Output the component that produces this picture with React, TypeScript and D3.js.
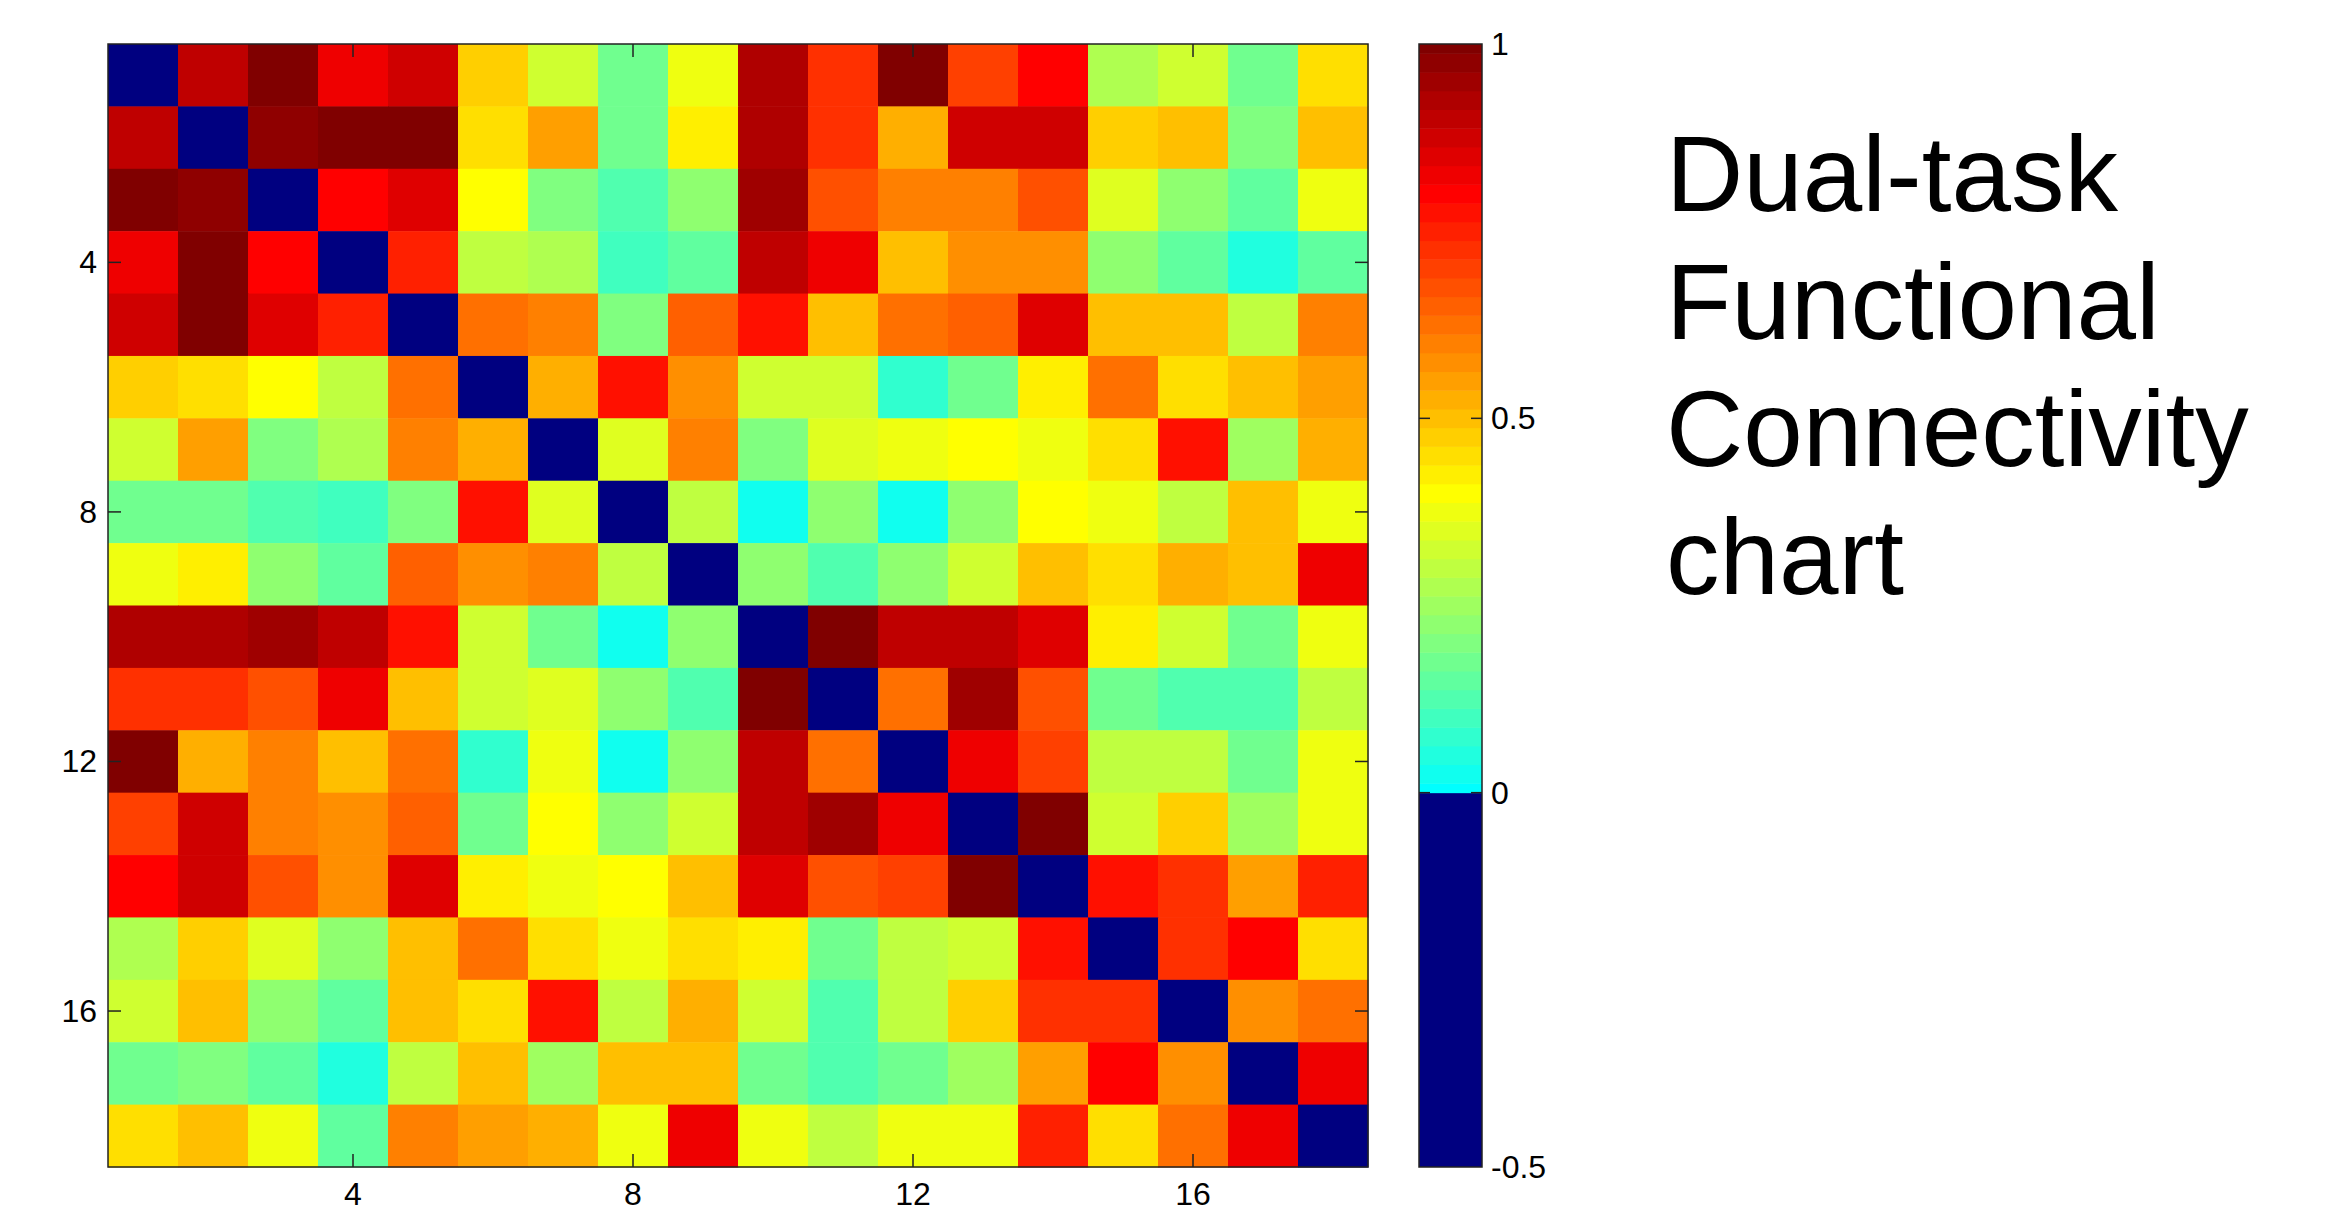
import React, { useEffect, useRef } from "react";
import * as d3 from "d3";

// node labels (rows / columns of the matrix)
const nodes = [1, 2, 3, 4, 5, 6, 7, 8, 9, 10, 11, 12, 13, 14, 15, 16, 17, 18];
const axisTicks = [4, 8, 12, 16];
const colorbarTicks = [1, 0.5, 0, -0.5];
const titleLines = ["Dual-task", "Functional", "Connectivity", "chart"];

const D = -0.5; // diagonal (shown navy)
const connectivity = [
  [D, 0.9, 1.0, 0.825, 0.875, 0.475, 0.325, 0.175, 0.375, 0.925, 0.725, 1.0, 0.7, 0.8, 0.275, 0.325, 0.175, 0.45],
  [0.9, D, 0.975, 1.0, 1.0, 0.45, 0.55, 0.175, 0.425, 0.925, 0.725, 0.525, 0.875, 0.875, 0.475, 0.5, 0.2, 0.5],
  [1.0, 0.975, D, 0.8, 0.85, 0.4, 0.2, 0.125, 0.225, 0.95, 0.675, 0.6, 0.6, 0.675, 0.35, 0.225, 0.15, 0.375],
  [0.825, 1.0, 0.8, D, 0.75, 0.3, 0.275, 0.1, 0.15, 0.9, 0.825, 0.5, 0.575, 0.575, 0.225, 0.15, 0.05, 0.15],
  [0.875, 1.0, 0.85, 0.75, D, 0.625, 0.6, 0.2, 0.65, 0.775, 0.5, 0.625, 0.65, 0.85, 0.5, 0.5, 0.3, 0.6],
  [0.475, 0.45, 0.4, 0.3, 0.625, D, 0.525, 0.775, 0.575, 0.325, 0.325, 0.075, 0.175, 0.425, 0.625, 0.45, 0.5, 0.55],
  [0.325, 0.55, 0.2, 0.275, 0.6, 0.525, D, 0.35, 0.6, 0.2, 0.35, 0.375, 0.4, 0.375, 0.45, 0.775, 0.25, 0.525],
  [0.175, 0.175, 0.125, 0.1, 0.2, 0.775, 0.35, D, 0.3, 0.025, 0.225, 0.025, 0.225, 0.4, 0.375, 0.3, 0.5, 0.375],
  [0.375, 0.425, 0.225, 0.15, 0.65, 0.575, 0.6, 0.3, D, 0.225, 0.125, 0.225, 0.325, 0.5, 0.45, 0.525, 0.5, 0.825],
  [0.925, 0.925, 0.95, 0.9, 0.775, 0.325, 0.175, 0.025, 0.225, D, 1.0, 0.9, 0.9, 0.85, 0.425, 0.325, 0.175, 0.375],
  [0.725, 0.725, 0.675, 0.825, 0.5, 0.325, 0.35, 0.225, 0.125, 1.0, D, 0.625, 0.95, 0.675, 0.175, 0.125, 0.125, 0.3],
  [1.0, 0.525, 0.6, 0.5, 0.625, 0.075, 0.375, 0.025, 0.225, 0.9, 0.625, D, 0.825, 0.7, 0.3, 0.3, 0.175, 0.375],
  [0.7, 0.875, 0.6, 0.575, 0.65, 0.175, 0.4, 0.225, 0.325, 0.9, 0.95, 0.825, D, 1.0, 0.325, 0.475, 0.25, 0.375],
  [0.8, 0.875, 0.675, 0.575, 0.85, 0.425, 0.375, 0.4, 0.5, 0.85, 0.675, 0.7, 1.0, D, 0.775, 0.725, 0.55, 0.75],
  [0.275, 0.475, 0.35, 0.225, 0.5, 0.625, 0.45, 0.375, 0.45, 0.425, 0.175, 0.3, 0.325, 0.775, D, 0.725, 0.8, 0.45],
  [0.325, 0.5, 0.225, 0.15, 0.5, 0.45, 0.775, 0.3, 0.525, 0.325, 0.125, 0.3, 0.475, 0.725, 0.725, D, 0.575, 0.625],
  [0.175, 0.2, 0.15, 0.05, 0.3, 0.5, 0.25, 0.5, 0.5, 0.175, 0.125, 0.175, 0.25, 0.55, 0.8, 0.575, D, 0.825],
  [0.45, 0.5, 0.375, 0.15, 0.6, 0.55, 0.525, 0.375, 0.825, 0.375, 0.3, 0.375, 0.375, 0.75, 0.45, 0.625, 0.825, D],
];

const W = 2350;
const H = 1206;
const FONT = "'Liberation Sans', Arial, sans-serif";

// jet-like colormap: negatives are navy, 0..1 runs cyan -> yellow -> red -> dark red
const LEVELS = 40;
const jet = (v: number) => {
  if (v < 0) return "#000080";
  const q = Math.round(Math.min(1, v) * LEVELS) / LEVELS;
  const t = 0.375 + 0.625 * q;
  const c = (x: number) => Math.max(0, Math.min(1, 1.5 - Math.abs(4 * t - x))) * 255;
  return d3.rgb(c(3), c(2), c(1)).formatHex();
};

const App = () => {
  const ref = useRef<SVGSVGElement>(null);

  useEffect(() => {
    document.body.style.margin = "0";
    const svg = d3.select(ref.current);
    svg.selectAll("*").remove();

    const left = 108, right = 1368, top = 44, bottom = 1167;
    const x = d3.scaleBand<number>().domain(nodes).range([left, right]);
    const y = d3.scaleBand<number>().domain(nodes).range([top, bottom]);

    const cells = connectivity.flatMap((row, i) =>
      row.map((v, j) => ({ r: nodes[i], c: nodes[j], v }))
    );

    svg.append("g")
      .selectAll("rect")
      .data(cells)
      .enter()
      .append("rect")
      .attr("x", d => x(d.c)!)
      .attr("y", d => y(d.r)!)
      .attr("width", x.bandwidth() + 0.5)
      .attr("height", y.bandwidth() + 0.5)
      .attr("fill", d => jet(d.v));

    const axisColor = "#222";
    const tickLen = 13;
    const ticks = svg.append("g").attr("stroke", axisColor).attr("stroke-width", 1.5);
    axisTicks.forEach(t => {
      const cx = x(t)! + x.bandwidth() / 2;
      const cy = y(t)! + y.bandwidth() / 2;
      ticks.append("line").attr("x1", cx).attr("x2", cx).attr("y1", bottom).attr("y2", bottom - tickLen);
      ticks.append("line").attr("x1", cx).attr("x2", cx).attr("y1", top).attr("y2", top + tickLen);
      ticks.append("line").attr("x1", left).attr("x2", left + tickLen).attr("y1", cy).attr("y2", cy);
      ticks.append("line").attr("x1", right).attr("x2", right - tickLen).attr("y1", cy).attr("y2", cy);
    });

    svg.append("rect")
      .attr("x", left).attr("y", top)
      .attr("width", right - left).attr("height", bottom - top)
      .attr("fill", "none").attr("stroke", axisColor).attr("stroke-width", 1.5);

    const labels = svg.append("g").attr("font-family", FONT).attr("font-size", 32).attr("fill", "#000");
    axisTicks.forEach(t => {
      labels.append("text")
        .attr("x", x(t)! + x.bandwidth() / 2)
        .attr("y", 1205)
        .attr("text-anchor", "middle")
        .text(t);
      labels.append("text")
        .attr("x", 97)
        .attr("y", y(t)! + y.bandwidth() / 2)
        .attr("text-anchor", "end")
        .attr("dominant-baseline", "central")
        .text(t);
    });

    // colorbar
    const cbL = 1419, cbR = 1482;
    const cy = d3.scaleLinear().domain([-0.5, 1]).range([bottom, top]);
    const half = 0.5 / LEVELS;
    const bands = d3.range(0, LEVELS + 1).map(k => k / LEVELS);
    const cb = svg.append("g");
    cb.append("rect")
      .attr("x", cbL).attr("y", cy(0))
      .attr("width", cbR - cbL).attr("height", cy(-0.5) - cy(0))
      .attr("fill", jet(-0.5));
    cb.selectAll("rect.band")
      .data(bands)
      .enter()
      .append("rect")
      .attr("class", "band")
      .attr("x", cbL)
      .attr("y", d => cy(Math.min(1, d + half)))
      .attr("width", cbR - cbL)
      .attr("height", d => cy(Math.max(0, d - half)) - cy(Math.min(1, d + half)) + 0.5)
      .attr("fill", d => jet(d));
    cb.append("rect")
      .attr("x", cbL).attr("y", top)
      .attr("width", cbR - cbL).attr("height", bottom - top)
      .attr("fill", "none").attr("stroke", axisColor).attr("stroke-width", 1.5);

    colorbarTicks.forEach(t => {
      const ty = cy(t);
      if (t > -0.5 && t < 1) {
        cb.append("line").attr("x1", cbL).attr("x2", cbL + 11).attr("y1", ty).attr("y2", ty)
          .attr("stroke", axisColor).attr("stroke-width", 1.5);
        cb.append("line").attr("x1", cbR).attr("x2", cbR - 11).attr("y1", ty).attr("y2", ty)
          .attr("stroke", axisColor).attr("stroke-width", 1.5);
      }
      labels.append("text")
        .attr("x", 1491)
        .attr("y", ty)
        .attr("dominant-baseline", "central")
        .text(t);
    });

    // title block
    const title = svg.append("g").attr("font-family", FONT).attr("font-size", 107).attr("fill", "#000");
    const lineY = d3.scaleLinear().domain([0, 1]).range([211, 338.5]);
    titleLines.forEach((s, i) => {
      title.append("text").attr("x", 1666).attr("y", lineY(i)).text(s);
    });
  }, []);

  return (
    <svg
      ref={ref}
      width={W}
      height={H}
      style={{ display: "block", background: "#fff" }}
    ></svg>
  );
};

export default App;
